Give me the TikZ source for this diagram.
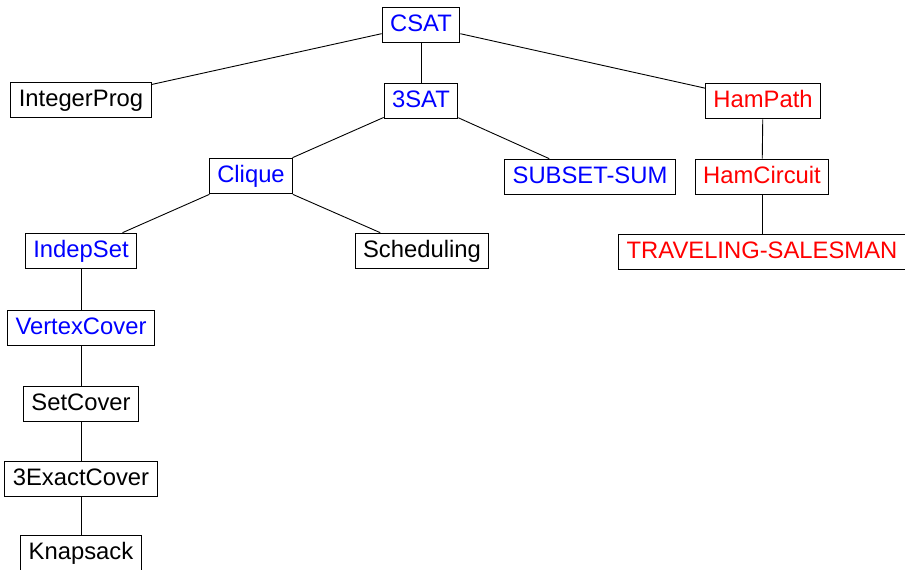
\documentclass[tikz,border=0pt]{standalone}
\usepackage{fontspec}
\setmainfont{Liberation Sans}
\begin{document}
\begin{tikzpicture}[x=1pt,y=-1pt,
  prob/.style={draw, line width=0.9pt, font=\fontsize{23.8}{27}\selectfont,
    inner xsep=8pt, inner ysep=7pt, text height=17pt, text depth=4.8pt},
  np/.style={prob, text=blue},
  hp/.style={prob, text=red},
  link/.style={line width=0.9pt}]
\useasboundingbox (0,0) rectangle (905,570);
% problem nodes
\node[np]   (csat)  at (421,25)  {CSAT};
\node[prob] (ip)    at (81,100)  {IntegerProg};
\node[np]   (sat)   at (421,101) {3SAT};
\node[hp]   (hpath) at (763,101) {HamPath};
\node[np]   (clq)   at (251,176) {Clique};
\node[np]   (ss)    at (590,177) {SUBSET-SUM};
\node[hp]   (hcirc) at (762,177) {HamCircuit};
\node[np]   (ind)   at (81,251)  {IndepSet};
\node[prob] (sch)   at (422,251) {Scheduling};
\node[hp]   (tsp)   at (762,252) {TRAVELING-SALESMAN};
\node[np]   (vc)    at (81,328)  {VertexCover};
\node[prob] (sc)    at (81,404)  {SetCover};
\node[prob] (xc)    at (81,479)  {3ExactCover};
\node[prob] (ks)    at (81,553)  {Knapsack};
% reductions
\draw[link] (csat) -- (ip);
\draw[link] (csat) -- (sat);
\draw[link] (csat) -- (hpath);
\draw[link] (sat) -- (clq);
\draw[link] (sat) -- (ss);
\draw[link] (hpath) -- (hcirc);
\draw[link] (hcirc) -- (tsp);
\draw[link] (clq) -- (ind);
\draw[link] (clq) -- (sch);
\draw[link] (ind) -- (vc);
\draw[link] (vc) -- (sc);
\draw[link] (sc) -- (xc);
\draw[link] (xc) -- (ks);
\end{tikzpicture}
\end{document}
